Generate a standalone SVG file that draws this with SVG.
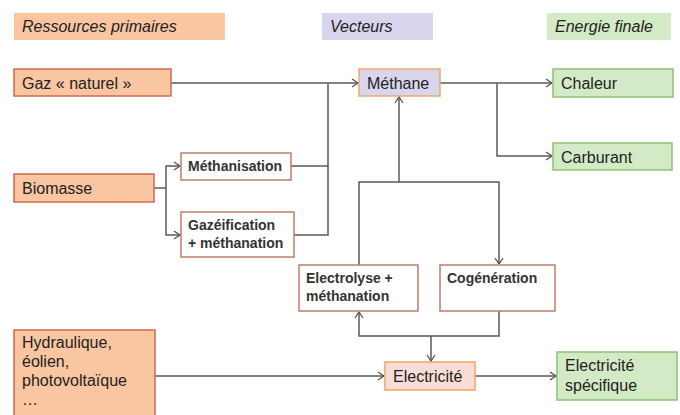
<svg xmlns="http://www.w3.org/2000/svg" width="680" height="415" viewBox="0 0 680 415">
<defs>
<marker id="arr" markerWidth="10" markerHeight="10" refX="8" refY="5" orient="auto" markerUnits="userSpaceOnUse">
<path d="M2,1 L8,5 L2,9" fill="none" stroke="#555" stroke-width="1.3"/>
</marker>
<style>
text{font-family:"Liberation Sans",Arial,sans-serif;fill:#222;}
.hdr{font-style:italic;font-size:16px;}
.lbl{font-size:16px;}
.sm{font-size:14px;font-weight:bold;fill:#333;}
.peach{fill:#f9c6a1;stroke:#d06a4c;stroke-width:1.5;}
.lav{fill:#d8d6ec;stroke:#f2a56e;stroke-width:1.5;}
.green{fill:#d4eac6;stroke:#8cc276;stroke-width:1.5;}
.white{fill:#fff;stroke:#c27b68;stroke-width:1.5;}
.pink{fill:#f8dcd6;stroke:#f3a560;stroke-width:1.5;}
.conn path{fill:none;stroke:#5a5a5a;stroke-width:1.5;}
</style>
</defs>
<rect width="680" height="415" fill="#fff"/>
<g id="hdr-ressources"><rect x="14" y="13" width="211" height="27" fill="#f9c6a1"/><text class="hdr" x="22" y="32">Ressources primaires</text></g>
<g id="hdr-vecteurs"><rect x="322" y="13" width="111" height="27" fill="#d8d6ec"/><text class="hdr" x="330" y="32">Vecteurs</text></g>
<g id="hdr-energie"><rect x="547" y="13" width="124" height="27" fill="#d4eac6"/><text class="hdr" x="555" y="32">Energie finale</text></g>

<g class="conn">
<path d="M171,83 H358" marker-end="url(#arr)"/>
<path d="M291,166 H328 V83"/>
<path d="M294,235 H328 V166"/>
<path d="M440,83 H552" marker-end="url(#arr)"/>
<path d="M497,83 V156 H552" marker-end="url(#arr)"/>
<path d="M154,188 H166"/>
<path d="M166,188 V166 H180" marker-end="url(#arr)"/>
<path d="M166,188 V235 H180" marker-end="url(#arr)"/>
<path d="M399,182 V97" marker-end="url(#arr)"/>
<path d="M359,265 V182 H499 V264" marker-end="url(#arr)"/>
<path d="M499,311 V336 H359 V312" marker-end="url(#arr)"/>
<path d="M431,336 V361" marker-end="url(#arr)"/>
<path d="M155,376 H384" marker-end="url(#arr)"/>
<path d="M475,376 H556" marker-end="url(#arr)"/>
</g>

<g id="gaz"><rect class="peach" x="14" y="69" width="157" height="27"/><text class="lbl" x="22" y="89">Gaz « naturel »</text></g>
<g id="methane"><rect class="lav" x="359" y="69" width="81" height="27"/><text class="lbl" x="367" y="89">Méthane</text></g>
<g id="chaleur"><rect class="green" x="553" y="69" width="120" height="28"/><text class="lbl" x="561" y="89">Chaleur</text></g>
<g id="carburant"><rect class="green" x="553" y="143" width="119" height="27"/><text class="lbl" x="561" y="163">Carburant</text></g>
<g id="methanisation"><rect class="white" x="181" y="153" width="110" height="27"/><text class="sm" x="188" y="171">Méthanisation</text></g>
<g id="biomasse"><rect class="peach" x="14" y="174" width="140" height="28"/><text class="lbl" x="22" y="194">Biomasse</text></g>
<g id="gazeification"><rect class="white" x="181" y="212" width="113" height="45"/><text class="sm" x="188" y="230">Gazéification</text><text class="sm" x="188" y="248">+ méthanation</text></g>
<g id="electrolyse"><rect class="white" x="299" y="265" width="119" height="46"/><text class="sm" x="306" y="283">Electrolyse +</text><text class="sm" x="306" y="301">méthanation</text></g>
<g id="cogeneration"><rect class="white" x="440" y="265" width="115" height="46"/><text class="sm" x="447" y="283">Cogénération</text></g>
<g id="hydraulique"><rect class="peach" x="14" y="330" width="141" height="90"/><text class="lbl" x="22" y="348">Hydraulique,</text><text class="lbl" x="22" y="367">éolien,</text><text class="lbl" x="22" y="386">photovoltaïque</text><text class="lbl" x="22" y="405">…</text></g>
<g id="electricite"><rect class="pink" x="385" y="362" width="90" height="28"/><text class="lbl" x="393" y="382">Electricité</text></g>
<g id="elec-spec"><rect class="green" x="557" y="352" width="120" height="48"/><text class="lbl" x="565" y="371">Electricité</text><text class="lbl" x="565" y="391">spécifique</text></g>
</svg>
